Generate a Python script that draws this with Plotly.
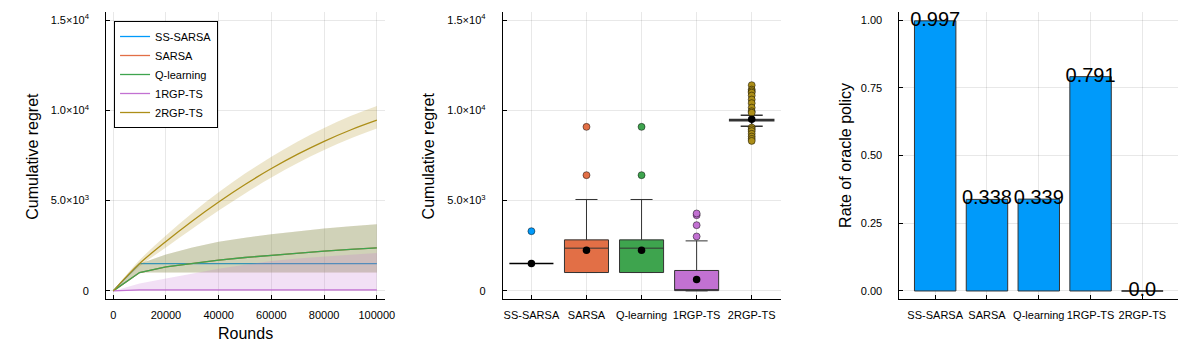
import plotly.graph_objects as go

# colours (Plots.jl default palette)
blue = "#009AFA"
orange = "#E26F46"
green = "#3EA44E"
purple = "#C271D2"
gold = "#AC8E18"

algos = ["SS-SARSA", "SARSA", "Q-learning", "1RGP-TS", "2RGP-TS"]
colors = [blue, orange, green, purple, gold]

# left panel: cumulative regret vs rounds (mean + ribbon)
rounds = [0, 10000, 20000, 30000, 40000, 50000, 60000, 70000, 80000, 90000, 100000]

ss_sarsa_mean = [0, 1515, 1515, 1515, 1515, 1515, 1515, 1515, 1515, 1515, 1515]

sarsa_mean = [0, 1017, 1330, 1520, 1700, 1850, 1978, 2100, 2200, 2295, 2384]
sarsa_lo = [0, 1017, 1017, 1017, 1017, 1017, 1017, 1017, 1017, 1017, 1017]
sarsa_hi = [0, 1500, 2016, 2400, 2715, 2950, 3141, 3310, 3457, 3585, 3695]

qlearn_mean = [0, 1017, 1330, 1520, 1700, 1850, 1978, 2100, 2200, 2295, 2384]
qlearn_lo = [0, 1017, 1017, 1017, 1017, 1017, 1017, 1017, 1017, 1017, 1017]
qlearn_hi = [0, 1500, 2016, 2400, 2715, 2950, 3141, 3310, 3457, 3585, 3695]

rgp1_mean = [0, 55, 55, 55, 55, 55, 55, 55, 55, 55, 55]
rgp1_lo = [0, 0, 0, 0, 0, 0, 0, 0, 0, 0, 0]
rgp1_hi = [0, 410, 690, 960, 1230, 1450, 1650, 1800, 1900, 2000, 2105]

rgp2_mean = [0, 1515, 2738, 3876, 4929, 5896, 6778, 7575, 8287, 8913, 9454]
rgp2_lo = [0, 1350, 2408, 3446, 4449, 5396, 6278, 7085, 7807, 8443, 8997]
rgp2_hi = [0, 1705, 3068, 4316, 5459, 6496, 7428, 8275, 9027, 9683, 10244]

# middle panel: final regret box stats
box_q1 = [1515, 1017, 1017, 15, 9425]
box_median = [1515, 2366, 2366, 20, 9457]
box_q3 = [1515, 2826, 2826, 1130, 9490]
box_lower = [1515, 1017, 1017, 0, 9125]
box_upper = [1515, 5063, 5063, 2770, 9734]
box_mean = [1518, 2255, 2255, 630, 9512]
outliers = [
    [3307],
    [6410, 9086],
    [6410, 9086],
    [3014, 3640, 4194, 4288],
    [11396, 11150, 11060, 10980, 10820, 10600, 10400, 10150, 9950, 9870,
     9050, 8950, 8850, 8700, 8550, 8420, 8310],
]

# right panel: rate of oracle policy
oracle_rate = [0.997, 0.338, 0.339, 0.791, 0.0]
oracle_text = ["0.997", "0.338", "0.339", "0.791", "0.0"]

regret_ticks = [0, 5000, 10000, 15000]
regret_ticktext = ["0", "5.0×10<sup>3</sup>", "1.0×10<sup>4</sup>", "1.5×10<sup>4</sup>"]
round_ticks = [0, 20000, 40000, 60000, 80000, 100000]

font = "Liberation Sans, Arial, sans-serif"
line_dark = "#333333"
grid = "rgba(0,0,0,0.09)"

fig = go.Figure()

series = [
    ("SS-SARSA", blue, ss_sarsa_mean, None, None),
    ("SARSA", orange, sarsa_mean, sarsa_lo, sarsa_hi),
    ("Q-learning", green, qlearn_mean, qlearn_lo, qlearn_hi),
    ("1RGP-TS", purple, rgp1_mean, rgp1_lo, rgp1_hi),
    ("2RGP-TS", gold, rgp2_mean, rgp2_lo, rgp2_hi),
]


def rgba(hexcol, a):
    h = hexcol.lstrip("#")
    return "rgba(%d,%d,%d,%s)" % (int(h[0:2], 16), int(h[2:4], 16), int(h[4:6], 16), a)


for name, col, mean, lo, hi in series:
    shape = "spline" if name == "2RGP-TS" else "linear"
    if lo is not None:
        fig.add_trace(go.Scatter(x=rounds, y=lo, mode="lines", line=dict(width=0, shape=shape),
                                 showlegend=False, hoverinfo="skip", xaxis="x", yaxis="y"))
        fig.add_trace(go.Scatter(x=rounds, y=hi, mode="lines", line=dict(width=0, shape=shape),
                                 fill="tonexty", fillcolor=rgba(col, 0.22),
                                 showlegend=False, hoverinfo="skip", xaxis="x", yaxis="y"))
    fig.add_trace(go.Scatter(x=rounds, y=mean, mode="lines", name=name,
                             line=dict(color=col, width=1.3, shape=shape), xaxis="x", yaxis="y"))

# box plots
pos = list(range(len(algos)))
for i, name in enumerate(algos):
    fig.add_trace(go.Box(
        x=[pos[i]], q1=[box_q1[i]], median=[box_median[i]], q3=[box_q3[i]],
        lowerfence=[box_lower[i]], upperfence=[box_upper[i]],
        fillcolor=colors[i], line=dict(color="#000000" if i == 0 else line_dark, width=1.5 if i in (0, 4) else 1),
        width=0.8, whiskerwidth=0.5, boxpoints=False, showlegend=False,
        xaxis="x2", yaxis="y2"))
    fig.add_trace(go.Scatter(
        x=[pos[i]] * len(outliers[i]), y=outliers[i], mode="markers",
        marker=dict(color=colors[i], size=7, line=dict(color="rgba(0,0,0,0.6)", width=0.8)),
        showlegend=False, xaxis="x2", yaxis="y2"))

fig.add_trace(go.Scatter(x=pos, y=box_mean, mode="markers",
                         marker=dict(color="black", size=7.5),
                         showlegend=False, xaxis="x2", yaxis="y2"))

# bars
bar_w = 0.8
fig.add_trace(go.Bar(x=pos, y=oracle_rate, width=bar_w,
                     marker=dict(color=blue, line=dict(color=line_dark, width=1)),
                     showlegend=False, xaxis="x3", yaxis="y3"))
# zero-height bars still show their outline in the original
for i, v in enumerate(oracle_rate):
    if v == 0:
        fig.add_trace(go.Scatter(x=[pos[i] - bar_w / 2, pos[i] + bar_w / 2], y=[v, v], mode="lines",
                                 line=dict(color=line_dark, width=1.2), showlegend=False,
                                 xaxis="x3", yaxis="y3"))
fig.add_trace(go.Scatter(x=pos, y=oracle_rate, mode="text", text=oracle_text,
                         textposition="middle center",
                         textfont=dict(size=20, color="black", family=font),
                         showlegend=False, xaxis="x3", yaxis="y3"))

ydom = [1 - 299 / 350, 1 - 12 / 350]
common = dict(showline=True, linecolor="black", linewidth=1, mirror=False,
              showgrid=True, gridcolor=grid, gridwidth=1, zeroline=False,
              ticks="inside", ticklen=4, tickcolor="black",
              tickfont=dict(size=11, color="black", family=font))

title_font = dict(size=16, color="black", family=font)

fig.update_layout(
    width=1200, height=350,
    margin=dict(l=0, r=0, t=0, b=0),
    plot_bgcolor="white", paper_bgcolor="white",
    font=dict(family=font, color="black"),
    bargap=0.2,
    xaxis=dict(domain=[107 / 1200, 388 / 1200], range=[-2700, 103000], anchor="y",
               tickvals=round_ticks, ticktext=[str(t) for t in round_ticks], ticklabelstandoff=6, **common),
    yaxis=dict(domain=ydom, range=[-450, 15450], anchor="x",
               tickvals=regret_ticks, ticktext=regret_ticktext, ticklabelstandoff=14, **common),
    xaxis2=dict(domain=[507 / 1200, 788 / 1200], range=[-0.52, 4.54], anchor="y2",
                tickvals=pos, ticktext=algos, ticklabelstandoff=6, **common),
    yaxis2=dict(domain=ydom, range=[-450, 15450], anchor="x2",
                tickvals=regret_ticks, ticktext=regret_ticktext, ticklabelstandoff=14, **common),
    xaxis3=dict(domain=[907 / 1200, 1188 / 1200], range=[-0.69, 4.69], anchor="y3",
                tickvals=pos, ticktext=algos, ticklabelstandoff=6, **common),
    yaxis3=dict(domain=ydom, range=[-0.0296, 1.0296], anchor="x3",
                tickvals=[0, 0.25, 0.5, 0.75, 1.0], ticktext=["0.00", "0.25", "0.50", "0.75", "1.00"],
                ticklabelstandoff=14, **common),
    legend=dict(x=115 / 1200, y=1 - 21 / 350, xanchor="left", yanchor="top",
                bgcolor="white", bordercolor="black", borderwidth=1,
                font=dict(size=11, color="black", family=font),
                itemwidth=30, tracegroupgap=0, traceorder="normal"),
    annotations=[
        dict(text="Cumulative regret", x=32 / 1200, y=1 - 156 / 350, xref="paper", yref="paper",
             xanchor="center", yanchor="middle", textangle=-90, showarrow=False, font=title_font),
        dict(text="Cumulative regret", x=432 / 1200, y=1 - 156 / 350, xref="paper", yref="paper",
             xanchor="center", yanchor="middle", textangle=-90, showarrow=False, font=title_font),
        dict(text="Rate of oracle policy", x=852 / 1200, y=1 - 155 / 350, xref="paper", yref="paper",
             xanchor="center", yanchor="middle", textangle=-90, showarrow=False, font=title_font),
        dict(text="Rounds", x=247.5 / 1200, y=1 - 333 / 350, xref="paper", yref="paper",
             xanchor="center", yanchor="middle", showarrow=False, font=title_font),
    ],
)

# the page body has a default 8px margin; drop it so the figure sits at 0,0
fig.write_html("out.html", config={"displayModeBar": False},
               post_script="document.body.style.margin='0';")
